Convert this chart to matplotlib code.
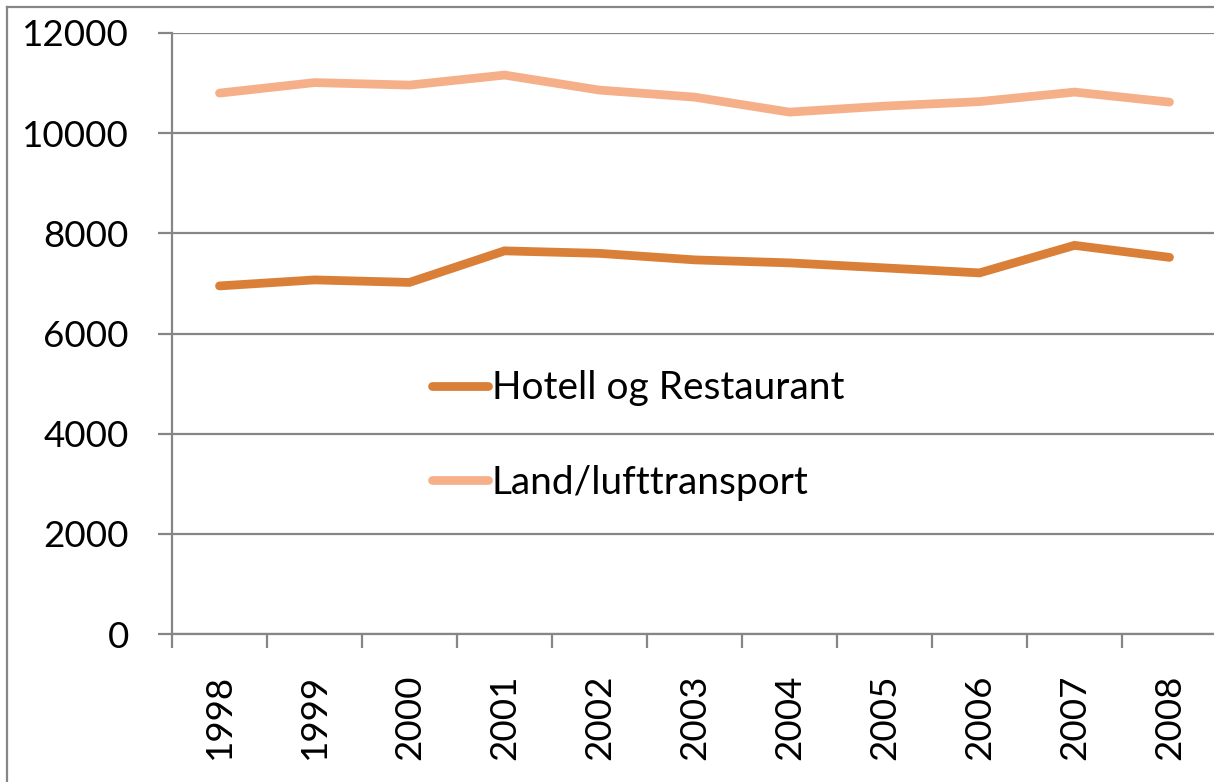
import numpy as np
import matplotlib.pyplot as plt
from matplotlib.lines import Line2D

plt.rcParams['font.family'] = ['Lato', 'DejaVu Sans']

# data
years = ['1998', '1999', '2000', '2001', '2002', '2003', '2004', '2005', '2006', '2007', '2008']
hotell = [6950, 7070, 7020, 7650, 7600, 7470, 7410, 7310, 7210, 7760, 7520]
transport = [10800, 11010, 10960, 11160, 10860, 10720, 10420, 10540, 10630, 10820, 10620]

W, H = 1214, 782
fig = plt.figure(figsize=(W / 100, H / 100), dpi=100)
ax = fig.add_axes([172 / W, 148 / H, 1045 / W, 601 / H])

grey = '#868686'
x = np.arange(len(years))
ax.plot(x, hotell, color='#DA7F37', lw=6.3, solid_capstyle='round', solid_joinstyle='miter',
        label='Hotell og Restaurant', zorder=3)
ax.plot(x, transport, color='#F6B089', lw=6.3, solid_capstyle='round', solid_joinstyle='miter',
        label='Land/lufttransport', zorder=3)

ax.set_xlim(-0.5, len(years) - 0.5)
ax.set_ylim(0, 12000)
ax.set_yticks(np.arange(0, 12001, 2000))
ax.yaxis.grid(True, color=grey, lw=1.6)
ax.set_axisbelow(True)

for s in ['top', 'right']:
    ax.spines[s].set_visible(False)
for s in ['left', 'bottom']:
    ax.spines[s].set_color(grey)
    ax.spines[s].set_linewidth(1.6)

ax.set_xticks(x)
ax.set_xticklabels(years, rotation=90)
ax.set_xticks(np.arange(-0.5, len(years), 1), minor=True)
ax.tick_params(axis='x', which='major', length=0, pad=29, labelsize=26.5)
ax.tick_params(axis='x', which='minor', length=10, width=1.6, color=grey)
ax.tick_params(axis='y', length=10, width=1.6, color=grey, pad=21, labelsize=26.5)

ax.legend(loc='center left', bbox_to_anchor=(432 / W, (H - 435.5) / H),
          bbox_transform=fig.transFigure, frameon=False, fontsize=28,
          handlelength=1.45, handletextpad=0.08, labelspacing=1.5,
          borderpad=0, borderaxespad=0)

# outer frame (left and top edges visible)
fig.add_artist(Line2D([7 / W, 7 / W], [0, (H - 7) / H], color=grey, lw=1.6, transform=fig.transFigure))
fig.add_artist(Line2D([7 / W, 1], [(H - 7) / H, (H - 7) / H], color=grey, lw=1.6, transform=fig.transFigure))

fig.savefig('out.png', dpi=100)
